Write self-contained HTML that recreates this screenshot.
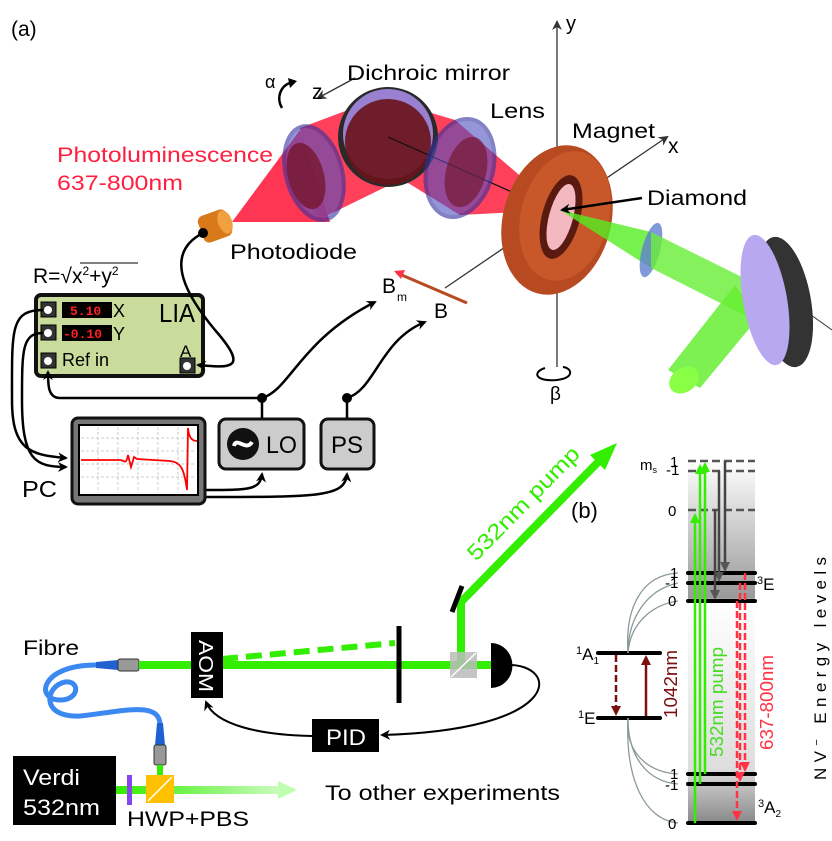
<!DOCTYPE html>
<html><head><meta charset="utf-8"><style>
html,body{margin:0;padding:0;background:#fff}
svg{display:block;font-family:"Liberation Sans",sans-serif}
</style></head><body>
<svg width="832" height="841" viewBox="0 0 832 841" xmlns="http://www.w3.org/2000/svg">
<defs>
<marker id="ah" markerWidth="10" markerHeight="10" refX="8" refY="5" orient="auto" markerUnits="userSpaceOnUse"><path d="M0,0 L10,5 L0,10 L3,5 z" fill="#000"/></marker>
<marker id="ahg" markerWidth="10" markerHeight="10" refX="8" refY="5" orient="auto" markerUnits="userSpaceOnUse"><path d="M0,0 L10,5 L0,10 L3,5 z" fill="#333"/></marker>
<marker id="ahgr" markerWidth="10" markerHeight="10" refX="8" refY="5" orient="auto" markerUnits="userSpaceOnUse"><path d="M0,0 L10,5 L0,10 z" fill="#33ee00"/></marker>
<marker id="ahdk" markerWidth="10" markerHeight="10" refX="8" refY="5" orient="auto" markerUnits="userSpaceOnUse"><path d="M0,0 L10,5 L0,10 z" fill="#555"/></marker>
<marker id="ahr" markerWidth="10" markerHeight="10" refX="8" refY="5" orient="auto" markerUnits="userSpaceOnUse"><path d="M0,0 L10,5 L0,10 z" fill="#ff3344"/></marker>
<marker id="ahb" markerWidth="10" markerHeight="10" refX="8" refY="5" orient="auto" markerUnits="userSpaceOnUse"><path d="M0,0 L10,5 L0,10 z" fill="#7a1010"/></marker>
<linearGradient id="col" x1="0" y1="0" x2="0" y2="1">
<stop offset="0" stop-color="#fff"/><stop offset="0.38" stop-color="#999"/><stop offset="0.39" stop-color="#fff"/><stop offset="0.85" stop-color="#ddd"/><stop offset="1" stop-color="#888"/></linearGradient>
<linearGradient id="fade" x1="0" y1="0" x2="1" y2="0"><stop offset="0" stop-color="#33ee00"/><stop offset="1" stop-color="#33ee00" stop-opacity="0.25"/></linearGradient>
</defs>

<!-- (a) -->
<text x="11" y="36" font-size="21">(a)</text>
<text x="57" y="162" font-size="21" fill="#ff2040" textLength="216" lengthAdjust="spacingAndGlyphs">Photoluminescence</text>
<text x="57" y="190" font-size="21" fill="#ff2040" textLength="126" lengthAdjust="spacingAndGlyphs">637-800nm</text>

<!-- y axis -->
<line x1="557" y1="367" x2="557" y2="22" stroke="#333" stroke-width="1.3" marker-end="url(#ahg)"/>
<text x="566" y="30" font-size="20">y</text>
<!-- x axis -->
<line x1="445" y1="288" x2="667" y2="137" stroke="#333" stroke-width="1.3" marker-end="url(#ahg)"/>
<text x="668" y="153" font-size="21">x</text>

<!-- red beam -->
<polygon points="232,222 300,130 330,222" fill="#ff2040" opacity="0.9"/>
<polygon points="300,128 388,95 400,180 318,220" fill="#ff2040" opacity="0.85"/>
<polygon points="388,100 455,120 560,210 460,215 400,178" fill="#ff2040" opacity="0.85"/>
<!-- lens1 -->
<ellipse cx="314" cy="173" rx="28" ry="48" transform="rotate(-15 314 173)" fill="#5050c0" opacity="0.6" stroke="#3030a0" stroke-width="4"/>
<ellipse cx="306" cy="176" rx="18" ry="34" transform="rotate(-15 306 176)" fill="#701020" opacity="0.7"/>
<!-- mirror -->
<circle cx="388" cy="137" r="50" fill="#2a2a2a"/>
<circle cx="388" cy="134" r="45" fill="#9a80d0"/>
<circle cx="388" cy="142" r="43" fill="#6a1218" opacity="0.9"/>
<line x1="388" y1="137" x2="530" y2="200" stroke="#111" stroke-width="1.2"/>
<line x1="355" y1="78" x2="318" y2="98" stroke="#333" stroke-width="1.3" marker-end="url(#ahg)"/>
<text x="347" y="80" font-size="21" textLength="163" lengthAdjust="spacingAndGlyphs">Dichroic mirror</text>
<text x="265" y="88" font-size="18">α</text>
<path d="M294,82 C280,84 276,98 282,108" fill="none" stroke="#000" stroke-width="2.5"/>
<path d="M288,78 L297,81 L290,88 z" fill="#000"/>
<text x="312" y="99" font-size="21">z</text>
<!-- lens2 -->
<ellipse cx="460" cy="168" rx="33" ry="50" transform="rotate(15 460 168)" fill="#5050c0" opacity="0.6" stroke="#3030a0" stroke-width="4"/>
<ellipse cx="466" cy="172" rx="20" ry="36" transform="rotate(15 466 172)" fill="#701020" opacity="0.6"/>
<text x="490" y="118" font-size="21" textLength="55" lengthAdjust="spacingAndGlyphs">Lens</text>

<!-- photodiode -->
<rect x="200" y="212" width="30" height="28" rx="6" fill="#d87a1a" transform="rotate(-20 215 226)"/>
<ellipse cx="225" cy="222" rx="7" ry="12" fill="#f0a040" transform="rotate(-20 225 222)"/>
<circle cx="203" cy="233" r="5" fill="#000"/>
<text x="230" y="259" font-size="21" textLength="127" lengthAdjust="spacingAndGlyphs">Photodiode</text>

<!-- magnet -->
<ellipse cx="557" cy="220" rx="54" ry="76" transform="rotate(15 557 220)" fill="#b84a22"/>
<ellipse cx="565" cy="216" rx="44" ry="66" transform="rotate(15 565 216)" fill="#c8582a"/>
<ellipse cx="561" cy="217" rx="19" ry="43" transform="rotate(15 561 217)" fill="#5a1a10"/>
<ellipse cx="561" cy="217" rx="12" ry="34" transform="rotate(15 561 217)" fill="#f4b8c0"/>
<text x="572" y="138" font-size="21" textLength="83" lengthAdjust="spacingAndGlyphs">Magnet</text>
<!-- green optics right -->
<polygon points="560,210 651,232 651,268" fill="#55ee22" opacity="0.8"/>
<ellipse cx="651" cy="250" rx="9" ry="28" transform="rotate(15 651 250)" fill="#6080d0" opacity="0.8"/>
<polygon points="651,232 758,285 750,318 651,268" fill="#66ee33" opacity="0.8"/>
<polygon points="735,285 758,318 700,388 668,370" fill="#66ee33" opacity="0.85"/>
<ellipse cx="684" cy="380" rx="16" ry="12" transform="rotate(-35 684 380)" fill="#88ff44"/>
<line x1="790" y1="300" x2="832" y2="330" stroke="#333" stroke-width="1"/>
<ellipse cx="785" cy="302" rx="26" ry="66" transform="rotate(-10 785 302)" fill="#333"/>
<ellipse cx="765" cy="300" rx="22" ry="66" transform="rotate(-10 765 300)" fill="#b8a8f0"/>
<line x1="642" y1="198" x2="562" y2="210" stroke="#000" stroke-width="2.5" marker-end="url(#ah)"/>
<text x="647" y="205" font-size="21" textLength="100" lengthAdjust="spacingAndGlyphs">Diamond</text>
<path d="M545,368 C532,372 535,382 557,380 C575,378 572,368 563,367" fill="none" stroke="#000" stroke-width="2"/>
<text x="550" y="400" font-size="19">β</text>

<!-- B arrows -->
<line x1="467" y1="303" x2="397" y2="273" stroke="#b84a22" stroke-width="3"/>
<path d="M394,271 L405,270 L401,279 z" fill="#ff3344"/>
<text x="382" y="293" font-size="21">B</text><text x="397" y="301" font-size="12">m</text>
<text x="434" y="318" font-size="21">B</text>

<!-- formula -->
<text x="33" y="283" font-size="21">R=√x<tspan font-size="12" dy="-8">2</tspan><tspan dy="8">+y</tspan><tspan font-size="12" dy="-8">2</tspan></text>
<line x1="80" y1="263" x2="138" y2="263" stroke="#000" stroke-width="1"/>

<!-- LIA -->
<rect x="36" y="295" width="167" height="81" rx="5" fill="#cadc9c" stroke="#111" stroke-width="4"/>
<rect x="62" y="302" width="50" height="16" fill="#000"/><text x="70" y="315" font-size="13" fill="#ff2020" font-family="Liberation Mono" font-weight="bold">5.10</text>
<rect x="62" y="325" width="50" height="16" fill="#000"/><text x="63" y="338" font-size="13" fill="#ff2020" font-family="Liberation Mono" font-weight="bold">-0.10</text>
<text x="113" y="317" font-size="18">X</text><text x="113" y="340" font-size="18">Y</text>
<text x="159" y="322" font-size="26" textLength="36" lengthAdjust="spacingAndGlyphs">LIA</text>
<text x="180" y="357" font-size="17">A</text>
<text x="62" y="366" font-size="18">Ref in</text>
<g fill="#333" stroke="#000" stroke-width="1">
<rect x="41" y="302" width="15" height="15"/><rect x="41" y="325" width="15" height="15"/><rect x="41" y="353" width="15" height="15"/><rect x="180" y="358" width="15" height="15"/></g>
<g fill="#fff"><circle cx="48" cy="310" r="4"/><circle cx="48" cy="333" r="4"/><circle cx="48" cy="361" r="4"/><circle cx="187" cy="366" r="4"/></g>

<!-- wires -->
<g fill="none" stroke="#000" stroke-width="2.5">
<path d="M203,233 C160,255 190,300 215,330 C250,370 230,368 198,365" marker-end="url(#ah)"/>
<path d="M43,310 C10,310 12,330 12,400 C12,450 30,455 66,458" marker-end="url(#ah)"/>
<path d="M43,333 C22,333 22,350 22,400 C22,460 35,467 66,467" marker-end="url(#ah)"/>
<path d="M262,398 L60,398 C48,398 48,385 48,372" marker-end="url(#ah)"/>
<path d="M262,398 C290,390 300,340 375,302" marker-end="url(#ah)"/>
<path d="M347,398 C375,390 380,340 425,322" marker-end="url(#ah)"/>
<line x1="262" y1="398" x2="262" y2="418"/><line x1="347" y1="398" x2="347" y2="418"/>
<path d="M205,490 C250,490 260,490 262,474" marker-end="url(#ah)"/>
<path d="M205,497 C320,497 345,497 347,474" marker-end="url(#ah)"/>
</g>
<circle cx="262" cy="398" r="5"/><circle cx="347" cy="398" r="5"/>

<!-- PC -->
<rect x="72" y="418" width="133" height="86" rx="6" fill="#777" stroke="#111" stroke-width="3"/>
<rect x="79" y="425" width="119" height="70" fill="#fff" stroke="#000" stroke-width="2"/>
<g stroke="#ccc" stroke-width="1" stroke-dasharray="3,2">
<line x1="98" y1="427" x2="98" y2="493"/><line x1="118" y1="427" x2="118" y2="493"/><line x1="138" y1="427" x2="138" y2="493"/><line x1="158" y1="427" x2="158" y2="493"/><line x1="178" y1="427" x2="178" y2="493"/>
<line x1="81" y1="438" x2="196" y2="438"/><line x1="81" y1="451" x2="196" y2="451"/><line x1="81" y1="464" x2="196" y2="464"/><line x1="81" y1="477" x2="196" y2="477"/></g>
<path d="M81,460 L120,460 C124,460 126,466 128,455 L131,467 L134,457 L137,459 L170,461 C180,462 184,467 187,490 L188,428 C189,438 192,441 197,441" fill="none" stroke="#f00" stroke-width="1.8"/>
<text x="22" y="497" font-size="23" textLength="35" lengthAdjust="spacingAndGlyphs">PC</text>

<!-- LO PS -->
<rect x="219" y="419" width="85" height="50" rx="7" fill="#ccc" stroke="#111" stroke-width="3"/>
<circle cx="243" cy="444" r="16" fill="#111"/>
<path d="M234,446 C236,436 246,452 252,442" fill="none" stroke="#fff" stroke-width="4"/>
<text x="266" y="453" font-size="24" textLength="31" lengthAdjust="spacingAndGlyphs">LO</text>
<rect x="321" y="419" width="53" height="50" rx="7" fill="#ccc" stroke="#111" stroke-width="3"/>
<text x="331" y="453" font-size="24" textLength="32" lengthAdjust="spacingAndGlyphs">PS</text>

<!-- lower optics -->
<path d="M96,665 C40,665 35,700 60,700 C80,700 80,680 65,682 C45,686 40,718 80,716 C120,712 160,700 160,725" fill="none" stroke="#3a88f0" stroke-width="5"/>
<polygon points="96,662 118,660 118,670 96,668" fill="#2060d0"/>
<rect x="118" y="659" width="21" height="12" rx="2" fill="#999" stroke="#333"/>
<polygon points="157,723 163,723 165,745 155,745" fill="#2060d0"/>
<rect x="154" y="745" width="12" height="20" rx="2" fill="#999" stroke="#333"/>
<line x1="160" y1="765" x2="160" y2="776" stroke="#33ee00" stroke-width="6"/>
<text x="23" y="655" font-size="21" textLength="56" lengthAdjust="spacingAndGlyphs">Fibre</text>
<line x1="139" y1="665" x2="491" y2="665" stroke="#33ee00" stroke-width="8"/>
<line x1="222" y1="659" x2="395" y2="643" stroke="#33ee00" stroke-width="6" stroke-dasharray="16,8"/>
<rect x="191" y="632" width="32" height="66" fill="#000"/>
<text x="0" y="0" font-size="20" fill="#fff" transform="translate(199,640) rotate(90)" textLength="52" lengthAdjust="spacingAndGlyphs">AOM</text>
<line x1="399" y1="626" x2="399" y2="703" stroke="#000" stroke-width="5"/>
<line x1="461" y1="665" x2="461" y2="600" stroke="#33ee00" stroke-width="8"/>
<line x1="461" y1="602" x2="605" y2="455" stroke="#33ee00" stroke-width="8"/>
<polygon points="617,443 590,455 605,470" fill="#33ee00"/>
<line x1="452" y1="612" x2="462" y2="586" stroke="#000" stroke-width="5"/>
<rect x="450" y="652" width="27" height="26" fill="#bbb" opacity="0.85"/>
<line x1="451" y1="677" x2="476" y2="653" stroke="#fff" stroke-width="1.5"/>
<path d="M491,643 A21,22 0 0 1 491,688 z" fill="#000"/>
<text x="0" y="0" font-size="22" fill="#33ee00" transform="translate(476,562) rotate(-45.5)" textLength="150" lengthAdjust="spacingAndGlyphs">532nm pump</text>
<g fill="none" stroke="#000" stroke-width="2">
<path d="M512,665 C560,668 560,730 382,735" marker-end="url(#ah)"/>
<path d="M312,736 C260,735 215,725 206,702" marker-end="url(#ah)"/>
</g>
<rect x="312" y="719" width="67" height="33" fill="#000"/>
<text x="326" y="745" font-size="22" fill="#fff" textLength="40" lengthAdjust="spacingAndGlyphs">PID</text>

<rect x="13" y="756" width="103" height="69" fill="#000"/>
<text x="23" y="785" font-size="22" fill="#fff" textLength="57" lengthAdjust="spacingAndGlyphs">Verdi</text>
<text x="23" y="815" font-size="22" fill="#fff" textLength="77" lengthAdjust="spacingAndGlyphs">532nm</text>
<rect x="116" y="786" width="164" height="8" fill="url(#fade)"/>
<polygon points="278,781 297,790 278,799" fill="#bfffb0"/>
<rect x="127" y="775" width="5" height="30" fill="#8844ee"/>
<rect x="146" y="775" width="28" height="28" fill="#ffc000"/>
<line x1="148" y1="801" x2="172" y2="777" stroke="#fff" stroke-width="1.5"/>
<text x="127" y="826" font-size="21" textLength="122" lengthAdjust="spacingAndGlyphs">HWP+PBS</text>
<text x="325" y="800" font-size="21" textLength="235" lengthAdjust="spacingAndGlyphs">To other experiments</text>

<!-- (b) -->
<text x="571" y="518" font-size="22">(b)</text>
<rect x="688" y="460" width="67" height="363" fill="url(#col)"/>
<g stroke="#555" stroke-width="2.5" stroke-dasharray="8,4">
<line x1="688" y1="461" x2="755" y2="461"/><line x1="688" y1="471" x2="755" y2="471"/><line x1="688" y1="510" x2="755" y2="510"/></g>
<g stroke="#000" stroke-width="4" stroke-linecap="round">
<line x1="688" y1="573" x2="755" y2="573"/><line x1="688" y1="583" x2="755" y2="583"/><line x1="688" y1="601" x2="755" y2="601"/>
<line x1="688" y1="774" x2="755" y2="774"/><line x1="688" y1="784" x2="755" y2="784"/><line x1="688" y1="823" x2="755" y2="823"/>
<line x1="598" y1="653" x2="660" y2="653"/><line x1="598" y1="718" x2="660" y2="718"/></g>
<g fill="none" stroke="#8a9a9a" stroke-width="1.3">
<path d="M678,573 C640,575 625,610 628,653"/><path d="M678,583 C645,590 628,620 628,653"/><path d="M678,601 C650,605 630,625 628,653"/>
<path d="M628,718 C625,750 645,772 678,774"/><path d="M628,718 C628,760 650,782 678,784"/><path d="M628,718 C625,780 645,820 678,823"/></g>
<g stroke="#33ee00" stroke-width="2.5">
<line x1="695" y1="823" x2="695" y2="515" marker-end="url(#ahgr)"/>
<line x1="700" y1="784" x2="700" y2="466" marker-end="url(#ahgr)"/>
<line x1="705" y1="774" x2="705" y2="464" marker-end="url(#ahgr)"/></g>
<g stroke="#444" stroke-width="2.5">
<line x1="725" y1="461" x2="725" y2="570" marker-end="url(#ahdk)"/>
<line x1="719" y1="471" x2="719" y2="580" marker-end="url(#ahdk)"/>
<line x1="715" y1="510" x2="715" y2="598" marker-end="url(#ahdk)"/></g>
<g stroke="#ff3344" stroke-width="2.5" stroke-dasharray="7,3">
<line x1="745" y1="573" x2="745" y2="770" marker-end="url(#ahr)"/>
<line x1="740" y1="583" x2="740" y2="780" marker-end="url(#ahr)"/>
<line x1="737" y1="601" x2="737" y2="819" marker-end="url(#ahr)"/></g>
<line x1="616" y1="655" x2="616" y2="714" stroke="#7a1010" stroke-width="2.5" stroke-dasharray="7,3" marker-end="url(#ahb)"/>
<line x1="646" y1="716" x2="646" y2="657" stroke="#7a1010" stroke-width="2.5" marker-end="url(#ahb)"/>
<text x="0" y="0" font-size="18" fill="#7a1010" transform="translate(677,718) rotate(-90)" textLength="68" lengthAdjust="spacingAndGlyphs">1042nm</text>
<text x="0" y="0" font-size="18" fill="#44dd22" transform="translate(723,757) rotate(-90)" textLength="110" lengthAdjust="spacingAndGlyphs">532nm pump</text>
<text x="0" y="0" font-size="18" fill="#ff3344" transform="translate(773,750) rotate(-90)" textLength="95" lengthAdjust="spacingAndGlyphs">637-800nm</text>
<text x="0" y="0" font-size="17" transform="translate(826,780) rotate(-90)" textLength="223">NV<tspan font-size="11" dy="-6">−</tspan><tspan dy="6"> Energy levels</tspan></text>
<g font-size="15">
<text x="640" y="470">m<tspan font-size="9" dy="3">s</tspan></text>
<text x="670" y="467">1</text><text x="666" y="475">-1</text><text x="668" y="516">0</text>
<text x="670" y="578">1</text><text x="665" y="588">-1</text><text x="668" y="606">0</text>
<text x="670" y="779">1</text><text x="665" y="790">-1</text><text x="668" y="829">0</text>
<text x="757" y="590"><tspan font-size="11" dy="-6">3</tspan><tspan dy="6" font-size="17">E</tspan></text>
<text x="758" y="813"><tspan font-size="11" dy="-6">3</tspan><tspan dy="6" font-size="17">A</tspan><tspan font-size="10" dy="4">2</tspan></text>
<text x="576" y="660"><tspan font-size="11" dy="-6">1</tspan><tspan dy="6" font-size="17">A</tspan><tspan font-size="10" dy="4">1</tspan></text>
<text x="578" y="724"><tspan font-size="11" dy="-6">1</tspan><tspan dy="6" font-size="17">E</tspan></text>
</g>
</svg>
</body></html>
